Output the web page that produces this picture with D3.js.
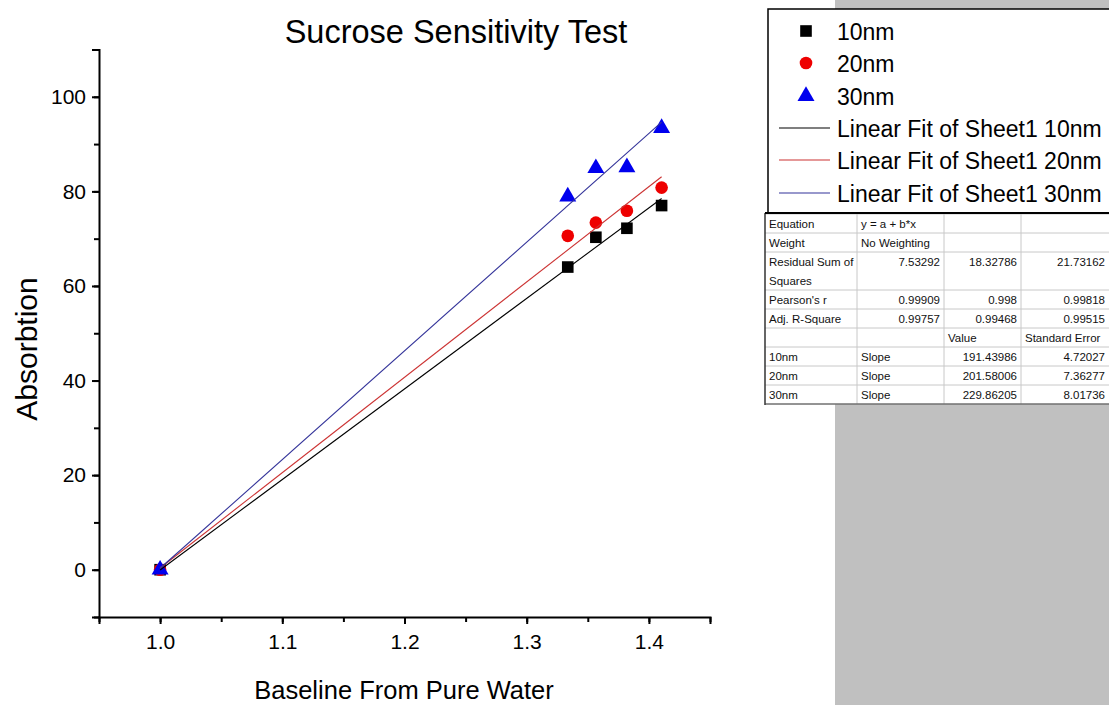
<!DOCTYPE html>
<html><head><meta charset="utf-8">
<script src="https://cdn.jsdelivr.net/npm/d3@7"></script>
<style>body{margin:0;background:#fff}svg{display:block}text{font-family:"Liberation Sans",Arial,sans-serif}</style>
</head><body>
<svg id="c" width="1109" height="705"></svg>
<script>
// ---- data ----
const xValues = [1.0, 1.3336, 1.3566, 1.382, 1.4104];
const series10 = [0, 64.0, 70.3, 72.2, 77.0];
const series20 = [0, 70.6, 73.4, 75.9, 80.8];
const series30 = [0, 78.9, 84.9, 85.1, 93.4];
const seriesNames = ["10nm", "20nm", "30nm"];
const fitSlopes = [191.43986, 201.58006, 229.86205];
const fitErrors = [4.72027, 7.36277, 8.01736];
const rss = ["7.53292", "18.32786", "21.73162"];
const pearson = ["0.99909", "0.998", "0.99818"];
const adjR2 = ["0.99757", "0.99468", "0.99515"];
const xTicks = [1.0, 1.1, 1.2, 1.3, 1.4];
const yTicks = [0, 20, 40, 60, 80, 100];

const svg = d3.select("#c");
// gray panel
svg.append("rect").attr("x",835).attr("y",0).attr("width",274).attr("height",705).attr("fill","#c0c0c0");

const x = d3.scaleLinear().domain([0.95, 1.45]).range([99, 710]);
const y = d3.scaleLinear().domain([-10, 110]).range([617, 49.5]);

// axes
const minorX = d3.range(0.95, 1.451, 0.05);
const minorY = d3.range(-10, 110.1, 10);
const gx = svg.append("g").attr("transform","translate(0,617)");
gx.call(d3.axisBottom(x).tickValues(minorX).tickSize(5).tickFormat(""));
gx.call(g=>g.selectAll(".domain").remove());
const gx2 = svg.append("g").attr("transform","translate(0,617)")
  .call(d3.axisBottom(x).tickValues(xTicks).tickSize(7).tickPadding(10).tickFormat(d3.format(".1f")));
[gx, gx2].forEach(g=>{g.selectAll("line").attr("stroke","#000").attr("stroke-width",2);});
gx2.select(".domain").attr("stroke-width",2);
gx2.selectAll("text").attr("font-size",21).attr("fill","#000").attr("font-family","Liberation Sans");

const gy = svg.append("g").attr("transform","translate(99,0)");
gy.call(d3.axisLeft(y).tickValues(minorY).tickSize(5).tickFormat(""));
gy.call(g=>g.selectAll(".domain").remove());
const gy2 = svg.append("g").attr("transform","translate(99,0)")
  .call(d3.axisLeft(y).tickValues(yTicks).tickSize(7).tickPadding(6));
[gy, gy2].forEach(g=>{g.selectAll("line").attr("stroke","#000").attr("stroke-width",2);});
gy2.select(".domain").attr("stroke-width",2);
gy2.selectAll("text").attr("font-size",21).attr("fill","#000").attr("font-family","Liberation Sans");

// titles
svg.append("text").attr("x",456).attr("y",43).attr("text-anchor","middle").attr("font-size",32.5).text("Sucrose Sensitivity Test");
svg.append("text").attr("x",404).attr("y",699).attr("text-anchor","middle").attr("font-size",25.5).text("Baseline From Pure Water");
svg.append("text").attr("transform","translate(37,349) rotate(-90)").attr("text-anchor","middle").attr("font-size",30).text("Absorbtion");

// markers
const allSeries = [series10, series20, series30];
const markerColors = ["#000000", "#ee0000", "#0000ee"];
const lineColors = ["#000000", "#cc3333", "#333399"];
const symbols = [d3.symbolSquare, d3.symbolCircle, d3.symbolTriangle];
const symSizes = [135, 125, 125];
allSeries.forEach((s,i)=>{
  svg.append("g").selectAll("path").data(s).join("path")
    .attr("transform",(d,j)=>`translate(${x(xValues[j])},${y(d)})`)
    .attr("d", d3.symbol().type(symbols[i]).size(symSizes[i]))
    .attr("fill", markerColors[i]);
});
// linear fits
const mx = d3.mean(xValues);
allSeries.forEach((s,i)=>{
  const my = d3.mean(s);
  const b = fitSlopes[i], a = my - b*mx;
  const xs = d3.extent(xValues);
  svg.append("path").datum(xs)
    .attr("d", d3.line().x(d=>x(d)).y(d=>y(a+b*d)))
    .attr("stroke", lineColors[i]).attr("stroke-width",1.1).attr("fill","none");
});

// legend box
const lg = svg.append("g");
lg.append("rect").attr("x",768).attr("y",9).attr("width",360).attr("height",204).attr("fill","#fff").attr("stroke","#000").attr("stroke-width",1.5);
const legRows = [31, 63, 96, 128, 160, 193];
seriesNames.forEach((n,i)=>{
  lg.append("path").attr("transform",`translate(806,${legRows[i]})`)
    .attr("d", d3.symbol().type(symbols[i]).size(symSizes[i])).attr("fill", markerColors[i]);
  lg.append("text").attr("x",837).attr("y",legRows[i]+8.5).attr("font-size",23).text(n);
  lg.append("line").attr("x1",779).attr("x2",830).attr("y1",legRows[i+3]).attr("y2",legRows[i+3]).attr("stroke",lineColors[i]).attr("stroke-width",1.2);
  lg.append("text").attr("x",837).attr("y",legRows[i+3]+8.5).attr("font-size",23).text("Linear Fit of Sheet1 " + n);
});

// stats table
const tb = svg.append("g");
const colX = [765, 857, 944, 1021, 1109];
const rowY = [214, 233, 252, 290, 309, 328, 347, 366, 385, 404];
tb.append("rect").attr("x",765).attr("y",214).attr("width",360).attr("height",190).attr("fill","#fff");
rowY.forEach(r=>tb.append("line").attr("x1",765).attr("x2",1109).attr("y1",r).attr("y2",r).attr("stroke","#c8c8c8"));
colX.slice(1,4).forEach(c=>tb.append("line").attr("x1",c).attr("x2",c).attr("y1",214).attr("y2",404).attr("stroke","#c8c8c8"));
tb.append("line").attr("x1",765).attr("x2",765).attr("y1",213).attr("y2",405).attr("stroke","#333").attr("stroke-width",1.5);
tb.append("line").attr("x1",765).attr("x2",1109).attr("y1",404).attr("y2",404).attr("stroke","#444").attr("stroke-width",1);
tb.append("line").attr("x1",765).attr("x2",1109).attr("y1",213).attr("y2",213).attr("stroke","#000").attr("stroke-width",2);

function cell(txt, col, row, align, dy){
  const x0 = align==="end" ? colX[col+1]-4 : colX[col]+4;
  tb.append("text").attr("x",x0).attr("y",rowY[row]+14+(dy||0)).attr("text-anchor",align).attr("font-size",11.5).attr("fill","#111").text(txt);
}
cell("Equation",0,0,"start"); cell("y = a + b*x",1,0,"start");
cell("Weight",0,1,"start"); cell("No Weighting",1,1,"start");
cell("Residual Sum of",0,2,"start"); tb.append("text").attr("x",769).attr("y",285).attr("font-size",11.5).attr("fill","#111").text("Squares");
rss.forEach((v,i)=>cell(v,i+1,2,"end"));
cell("Pearson's r",0,3,"start"); pearson.forEach((v,i)=>cell(v,i+1,3,"end"));
cell("Adj. R-Square",0,4,"start"); adjR2.forEach((v,i)=>cell(v,i+1,4,"end"));
cell("Value",2,5,"start"); cell("Standard Error",3,5,"start");
seriesNames.forEach((n,i)=>{
  cell(n,0,6+i,"start"); cell("Slope",1,6+i,"start");
  cell(d3.format(".5f")(fitSlopes[i]),2,6+i,"end");
  cell(d3.format(".5f")(fitErrors[i]),3,6+i,"end");
});
</script>
</body></html>
